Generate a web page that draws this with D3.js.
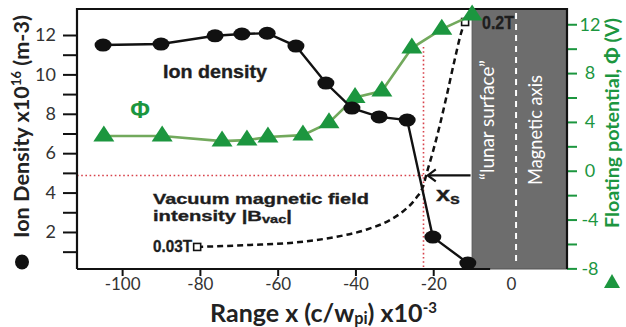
<!DOCTYPE html>
<html><head><meta charset="utf-8">
<script src="https://cdn.jsdelivr.net/npm/d3@7"></script>
<style>body{margin:0;background:#fff}svg{display:block}</style>
</head><body><svg id="c" width="626" height="327"></svg>
<script>
// ---- data ----
const rangeTicks = [-100, -80, -60, -40, -20, 0];
const densityTicks = [1,2,3,4,5,6,7,8,9,10,11,12];
const phiTicks = [-8,-6,-4,-2,0,2,4,6,8,10,12];
const densityX = [-104.9,-90.0,-76.1,-69.2,-62.7,-55.3,-47.6,-40.9,-33.9,-26.7,-20.1,-11.1];
const densityY = [11.49,11.54,11.96,12.05,12.09,11.44,9.56,8.29,7.84,7.68,1.74,0.42];
const phiX = [-104.7,-89.7,-74.3,-67.9,-62.5,-53.5,-46.8,-40.1,-33.2,-25.5,-17.8,-10.0];
const phiY = [2.84,2.84,2.43,2.51,2.76,2.92,3.93,6.01,6.53,10.05,11.6,12.75];
// vacuum magnetic field curve (schematic, plotted on density scale)
const bvacX = [-80.7,-67.1,-54.3,-45.3,-37.5,-31.1,-27.3,-24.4,-22.6,-21.6,-20.1,-18.3,-16.5,-14.5,-12.6,-11.8];
const bvacY = [1.24,1.34,1.49,1.74,2.10,2.61,3.12,3.72,4.33,5.04,6.06,7.43,8.95,10.73,12.25,12.66];
const xsX = -22.5, xsY = 4.87, xsTop = 11.39;
const arrowX = [-10.4, -21.4];
const lunarSurfaceX = -10.0, magneticAxisX = 1.3;

// ---- layout ----
const L = 77, R = 567, T = 9, B = 269;
const svg = d3.select('#c');
const x = d3.scaleLinear().domain([-111.6, 14.4]).range([L, R]);
const yL = d3.scaleLinear().domain([0.12, 13.32]).range([B, T]);
const yR = d3.scaleLinear().domain([-8.05, 13.25]).range([B, T]);

const green = '#1c963f', lineGreen = '#72a95c', txt = '#333', red = '#d8434c';
const humanist = 'Lato, "Open Sans", sans-serif';
const helv = '"Liberation Sans", Arial, sans-serif';

function fit(sel, w) {
  const cur = sel.node().getComputedTextLength();
  const fs = parseFloat(sel.attr('font-size'));
  sel.attr('font-size', fs * w / cur);
  return sel;
}
// label at (x0,y0), stretched horizontally to width w
function label(x0, y0, size, w, color) {
  const g = svg.append('g');
  const t = g.append('text').attr('x', 0).attr('y', 0).attr('font-family', helv)
    .attr('font-weight', 700).attr('font-size', size).attr('fill', color || '#1e1e1e')
    .attr('stroke', color || '#1e1e1e').attr('stroke-width', 0.35);
  t.fit = () => {
    const cur = t.node().getComputedTextLength();
    g.attr('transform', `translate(${x0},${y0}) scale(${w / cur},1)`);
  };
  return t;
}

// gray region
svg.append('rect').attr('x', x(lunarSurfaceX)).attr('y', T)
  .attr('width', R - x(lunarSurfaceX)).attr('height', B - T)
  .attr('fill', '#6d6d6d').attr('stroke', '#555').attr('stroke-width', 1);
svg.append('line').attr('x1', x(magneticAxisX)).attr('x2', x(magneticAxisX))
  .attr('y1', T + 4).attr('y2', B - 6).attr('stroke', '#fff')
  .attr('stroke-width', 2).attr('stroke-dasharray', '6,5');

// red dotted guides
svg.append('line').attr('x1', L).attr('x2', x(xsX)).attr('y1', yL(xsY)).attr('y2', yL(xsY))
  .attr('stroke', red).attr('stroke-width', 1.6).attr('stroke-dasharray', '1.6,2.6');
svg.append('line').attr('x1', x(xsX)).attr('x2', x(xsX)).attr('y1', yL(xsTop)).attr('y2', B)
  .attr('stroke', red).attr('stroke-width', 1.6).attr('stroke-dasharray', '1.6,2.6');

// axes
const gL = svg.append('g').attr('transform', `translate(${L},0)`)
  .call(d3.axisLeft(yL).tickValues(densityTicks).tickSize(14).tickPadding(7)
    .tickFormat(d => d % 2 === 0 ? d : ''));
gL.select('.domain').remove();
gL.selectAll('line').attr('stroke', '#111').attr('stroke-width', 2);
gL.selectAll('text').attr('font-family', humanist).attr('font-size', 18).attr('fill', txt);

const gB = svg.append('g').attr('transform', `translate(0,${B})`)
  .call(d3.axisBottom(x).tickValues(rangeTicks).tickSize(7).tickPadding(2).tickFormat(d => String(d)));
gB.select('.domain').remove();
gB.selectAll('line').attr('stroke', '#111').attr('stroke-width', 2);
gB.selectAll('.tick').filter(d => d === 0).select('line').remove();
gB.selectAll('text').attr('font-family', humanist).attr('font-size', 17).attr('fill', txt);

const gR = svg.append('g').attr('transform', `translate(${R},0)`)
  .call(d3.axisRight(yR).tickValues(phiTicks).tickSize(10).tickPadding(13)
    .tickFormat(d => d % 4 === 0 ? String(d) : ''));
gR.select('.domain').remove();
gR.selectAll('line').attr('stroke', green).attr('stroke-width', 2);
gR.selectAll('text').attr('font-family', humanist).attr('font-size', 18).attr('fill', green)
  .attr('text-anchor', 'middle');

// frame
svg.append('path').attr('d', `M${L},${B}V${T}H${R}V${B}`).attr('fill', 'none')
  .attr('stroke', '#111').attr('stroke-width', 2.2);
svg.append('line').attr('x1', L).attr('x2', x(lunarSurfaceX) + 18).attr('y1', B).attr('y2', B)
  .attr('stroke', '#111').attr('stroke-width', 2.2);

// B_vac curve
const bpts = bvacX.map((v, i) => [x(v), yL(bvacY[i])]);
svg.append('path').attr('d', d3.line().curve(d3.curveMonotoneX)(bpts))
  .attr('fill', 'none').attr('stroke', '#111').attr('stroke-width', 2.5).attr('stroke-dasharray', '6,4');
[bpts[0], bpts[bpts.length - 1]].forEach(p => {
  svg.append('rect').attr('x', p[0] - 3.5).attr('y', p[1] - 3.5).attr('width', 7).attr('height', 7)
    .attr('fill', '#fff').attr('stroke', '#111').attr('stroke-width', 1.6);
});

// phi line + triangles
const ppts = phiX.map((v, i) => [x(v), yR(phiY[i])]);
svg.append('path').attr('d', d3.line()(ppts)).attr('fill', 'none')
  .attr('stroke', lineGreen).attr('stroke-width', 2.6);
svg.selectAll('.tri').data(ppts).enter().append('path').attr('class', 'tri')
  .attr('d', d => `M${d[0]},${d[1] - 10.5}L${d[0] + 10.5},${d[1] + 5.5}L${d[0] - 10.5},${d[1] + 5.5}Z`)
  .attr('fill', green);

// density line + dots
const dpts = densityX.map((v, i) => [x(v), yL(densityY[i])]);
svg.append('path').attr('d', d3.line()(dpts)).attr('fill', 'none')
  .attr('stroke', '#111').attr('stroke-width', 2.4);
svg.selectAll('.dot').data(dpts).enter().append('ellipse').attr('class', 'dot')
  .attr('cx', d => d[0]).attr('cy', d => d[1]).attr('rx', 8.5).attr('ry', 6.5).attr('fill', '#111');

// arrow to x_s
const ay = yL(xsY);
svg.append('line').attr('x1', x(arrowX[0])).attr('x2', x(arrowX[1])).attr('y1', ay).attr('y2', ay)
  .attr('stroke', '#111').attr('stroke-width', 2.2);
svg.append('path').attr('d', `M${x(arrowX[1]) + 8},${ay - 6}L${x(arrowX[1])},${ay}L${x(arrowX[1]) + 8},${ay + 6}`)
  .attr('fill', 'none').attr('stroke', '#111').attr('stroke-width', 2.2);

// inner labels
let t;
t = label(163, 78, 18, 104); t.text('Ion density'); t.fit();
svg.append('text').attr('x', 140).attr('y', 118).attr('text-anchor', 'middle').attr('font-family', helv)
  .attr('font-weight', 700).attr('font-size', 24).attr('fill', green).text('Φ');
t = label(153, 204, 15.5, 216); t.text('Vacuum magnetic field'); t.fit();
t = label(153, 221, 15.5, 139);
t.append('tspan').text('intensity |B');
t.append('tspan').attr('font-size', '0.72em').attr('dy', 2).text('vac');
t.append('tspan').attr('dy', -2).text('|');
t.fit();
t = label(153, 252, 17, 39); t.text('0.03T'); t.fit();
t = label(482, 29, 19, 32); t.text('0.2T'); t.fit();
t = label(436, 201, 21, 24);
t.append('tspan').text('x');
t.append('tspan').attr('font-size', '0.7em').attr('dy', 3).text('s');
t.fit();

// region labels
fit(svg.append('text').attr('transform', 'translate(494,120) rotate(-90)').attr('text-anchor', 'middle')
  .attr('font-family', humanist).attr('font-size', 17).attr('fill', '#fff').text('“lunar surface”'), 120);
fit(svg.append('text').attr('transform', 'translate(542,130) rotate(-90)').attr('text-anchor', 'middle')
  .attr('font-family', humanist).attr('font-size', 17).attr('fill', '#fff').text('Magnetic axis'), 110);

// axis titles
const lt = svg.append('text').attr('transform', 'translate(29,126.5) rotate(-90)').attr('text-anchor', 'middle')
  .attr('font-family', humanist).attr('font-weight', 700).attr('font-size', 20).attr('fill', '#222');
lt.append('tspan').text('Ion Density x10');
lt.append('tspan').attr('font-size', '0.6em').attr('dy', -8).text('16');
lt.append('tspan').attr('dy', 8).text(' (m-3)');
fit(lt, 223);
svg.append('ellipse').attr('cx', 22).attr('cy', 262).attr('rx', 7).attr('ry', 7.5).attr('fill', '#111');

const bt = svg.append('text').attr('x', 323.5).attr('y', 322).attr('text-anchor', 'middle')
  .attr('font-family', humanist).attr('font-weight', 700).attr('font-size', 20).attr('fill', '#222');
bt.append('tspan').text('Range x  (c/w');
bt.append('tspan').attr('font-size', '0.65em').attr('dy', 2).text('pi');
bt.append('tspan').attr('dy', -2).text(')  x10');
bt.append('tspan').attr('font-size', '0.6em').attr('dy', -9).text('-3');
fit(bt, 227);

fit(svg.append('text').attr('transform', 'translate(619,123) rotate(-90)').attr('text-anchor', 'middle')
  .attr('font-family', humanist).attr('font-weight', 700).attr('font-size', 18).attr('fill', green)
  .text('Floating potential, Φ (V)'), 210);
svg.append('path').attr('d', 'M612,274L620,288L604,288Z').attr('fill', green);
</script></body></html>
